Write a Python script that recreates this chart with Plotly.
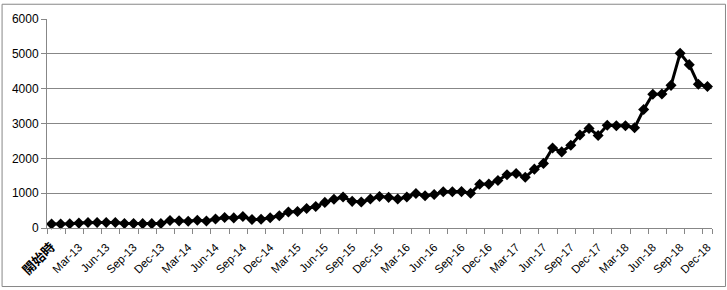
import plotly.graph_objects as go

months = ["Jan", "Feb", "Mar", "Apr", "May", "Jun", "Jul", "Aug", "Sep", "Oct", "Nov", "Dec"]
categories = ["開始時"] + [f"{m}-{y}" for y in range(13, 19) for m in months]

values = [115, 115, 120, 140, 160, 160, 160, 160, 130, 130, 125, 125, 130,
          215, 205, 195, 220, 200, 260, 300, 290,
          330, 245, 250, 295, 350, 460, 475, 560, 615, 735, 825, 890,
          765, 745, 830, 905, 880, 830, 890, 990, 925, 960, 1040, 1040,
          1045, 995, 1255, 1260, 1365, 1530, 1565, 1455, 1690, 1855,
          2295, 2185, 2375, 2670, 2860, 2655, 2950, 2935, 2935, 2880,
          3400, 3840, 3845, 4095, 5015, 4690, 4125, 4060]

y_ticks = [0, 1000, 2000, 3000, 4000, 5000, 6000]

x = list(range(len(categories)))
label_idx = x[::3]
label_text = [('<span style="font-size:13px"><b>%s</b></span>' % categories[i]) if i == 0 else categories[i]
              for i in label_idx]
minor_vals = [i - 0.5 for i in range(0, len(categories), 2)] + [len(categories) - 0.5]

GRAY = "#878787"

fig = go.Figure()
fig.add_trace(go.Scatter(
    x=x, y=values, mode="lines+markers",
    line=dict(color="black", width=3),
    marker=dict(symbol="diamond", size=8.5, color="black"),
    cliponaxis=False, showlegend=False, hoverinfo="skip"))

W, H = 727, 290
L, R, T, B = 46, 15, 16, 61.5
pw, ph = W - L - R, H - T - B

fig.update_layout(
    width=W, height=H,
    margin=dict(l=L, r=R, t=T, b=B, pad=0),
    paper_bgcolor="white", plot_bgcolor="white",
    font=dict(family="Liberation Sans, Noto Sans CJK JP", color="black", size=11),
    xaxis=dict(
        range=[-0.5, len(categories) - 0.5],
        tickmode="array", tickvals=label_idx, ticktext=label_text,
        tickangle=-45, ticks="", showgrid=False, zeroline=False,
        showline=True, linecolor=GRAY, linewidth=1,
        ticklabelstandoff=7,
        tickfont=dict(family="Liberation Sans, Noto Sans CJK JP", size=11.5, color="black"),
        minor=dict(tickmode="array", tickvals=minor_vals, ticks="outside",
                   ticklen=5, tickcolor=GRAY, tickwidth=1, showgrid=False),
        fixedrange=True,
    ),
    yaxis=dict(
        range=[0, 6000], tickmode="array", tickvals=y_ticks,
        ticks="outside", ticklen=5, tickcolor=GRAY,
        showgrid=True, gridcolor=GRAY, gridwidth=1, zeroline=False,
        showline=True, linecolor=GRAY, linewidth=1,
        tickfont=dict(family="Liberation Sans", size=12, color="black"),
        fixedrange=True,
    ),
    shapes=[dict(type="rect", xref="paper", yref="paper",
                 x0=(1 - L) / pw, x1=(W - 1.5 - L) / pw,
                 y0=(T + ph - 288) / ph, y1=(T + ph - 1) / ph,
                 line=dict(color=GRAY, width=1), layer="below")],
)

fig.write_html("out.html")
